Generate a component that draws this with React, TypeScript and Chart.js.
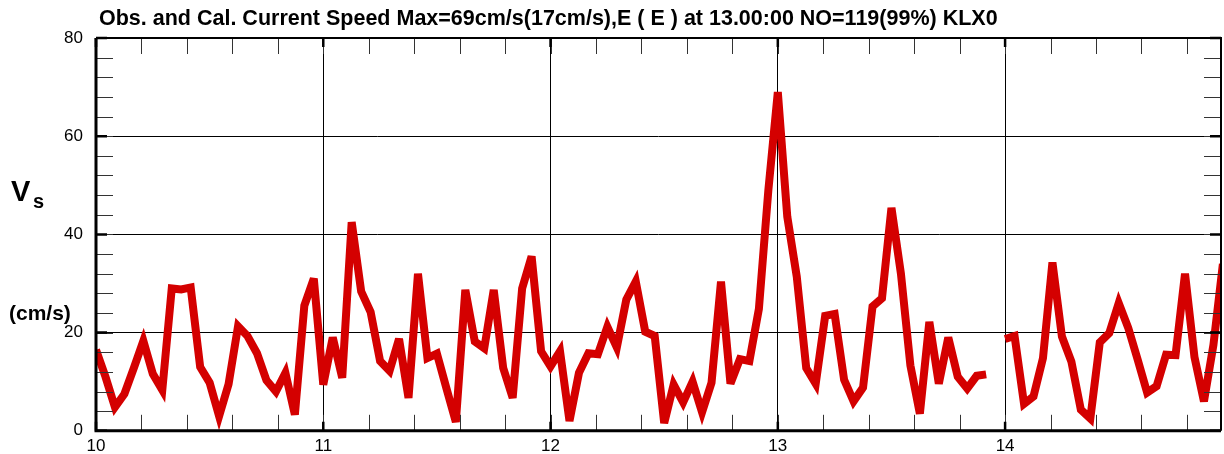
import React, { useEffect, useRef } from "react";
import { Chart, registerables } from "chart.js";

Chart.register(...registerables);

const TITLE = "Obs. and Cal. Current Speed Max=69cm/s(17cm/s),E ( E ) at 13.00:00 NO=119(99%) KLX0";
const Y_LABEL_MAIN = "V";
const Y_LABEL_SUB = "s";
const Y_UNIT = "(cm/s)";

const START_DAY = 10;
const HOURS_PER_DAY = 24;

// hourly current speed (cm/s), one array per day
const speedDay10 = [16.5, 11, 4.8, 7.5, 12.8, 18.3, 11.6, 8.3, 29, 28.8, 29.2, 13, 9.8, 3, 9.5, 21.3, 19.3, 15.8, 10.3, 8, 11.8, 3.3, 25.5, 31];
const speedDay11 = [9.4, 19, 10.8, 42.5, 28.4, 24.2, 14.2, 12.2, 18.7, 6.7, 32, 14.8, 15.7, 8.7, 1.8, 28.7, 18.2, 16.8, 28.7, 12.8, 6.7, 29, 35.5, 16.2];
const speedDay12 = [13.1, 16.2, 2, 11.8, 15.8, 15.6, 21.2, 17, 26.7, 30.4, 20.2, 19.3, 1.6, 9.4, 5.8, 10, 3.8, 9.8, 30.4, 9.6, 14.6, 14.2, 24.8, 49];
const speedDay13 = [69, 43.6, 31.4, 12.8, 9.6, 23.4, 23.8, 10.4, 6, 8.8, 25.3, 27, 45.4, 32, 13.3, 3.5, 22.2, 9.6, 19, 11, 8.6, 11.2, 11.5, null];
const speedDay14 = [18.7, 19.3, 5.5, 7, 14.8, 34.3, 19.2, 14.1, 4.3, 2.5, 18, 19.9, 26, 21, 14.5, 7.8, 9.1, 15.5, 15.4, 32, 15, 6, 17.5, 34];

const xTickValues = [10, 11, 12, 13, 14];
const yTickValues = [0, 20, 40, 60, 80];
const X_MIN = 10;
const X_MAX = 14.95;
const Y_MIN = 0;
const Y_MAX = 80;
const X_MINOR_STEP = 0.2;
const Y_MINOR_STEP = 4;

const LINE_COLOR = "#d40000";
const FONT = "'Liberation Sans', Arial, sans-serif";

export default function App() {
  const canvasRef = useRef<HTMLCanvasElement | null>(null);

  useEffect(() => {
    const canvas = canvasRef.current;
    if (!canvas) return;

    const days = [speedDay10, speedDay11, speedDay12, speedDay13, speedDay14];
    const points: { x: number; y: number | null }[] = [];
    days.forEach((arr, d) => {
      arr.forEach((v, h) => {
        points.push({ x: START_DAY + d + h / HOURS_PER_DAY, y: v });
      });
    });

    const miterPlugin = {
      id: "miterPlugin",
      beforeDatasetsDraw(chart: any) {
        chart.ctx.save();
        chart.ctx.miterLimit = 4;
      },
      afterDatasetsDraw(chart: any) {
        chart.ctx.restore();
      },
    };

    const framePlugin = {
      id: "framePlugin",
      afterDraw(chart: any) {
        const { ctx, chartArea, scales } = chart;
        const { left, right, top, bottom } = chartArea;
        const xs = scales.x;
        const ys = scales.y;
        ctx.save();
        // minor ticks
        ctx.strokeStyle = "#333";
        ctx.lineWidth = 1;
        ctx.beginPath();
        for (let v = X_MIN; v <= X_MAX + 1e-9; v += X_MINOR_STEP) {
          const px = Math.round(xs.getPixelForValue(v)) + 0.5;
          ctx.moveTo(px, bottom);
          ctx.lineTo(px, bottom - 16);
          ctx.moveTo(px, top);
          ctx.lineTo(px, top + 16);
        }
        for (let v = Y_MIN; v <= Y_MAX + 1e-9; v += Y_MINOR_STEP) {
          const py = Math.round(ys.getPixelForValue(v)) + 0.5;
          ctx.moveTo(left, py);
          ctx.lineTo(left + 17, py);
          ctx.moveTo(right, py);
          ctx.lineTo(right - 17, py);
        }
        ctx.stroke();
        // major tick stubs
        ctx.strokeStyle = "#000";
        ctx.lineWidth = 2.5;
        ctx.beginPath();
        xTickValues.forEach((v) => {
          const px = xs.getPixelForValue(v);
          ctx.moveTo(px, bottom);
          ctx.lineTo(px, bottom - 9);
          ctx.moveTo(px, top);
          ctx.lineTo(px, top + 9);
        });
        yTickValues.forEach((v) => {
          const py = ys.getPixelForValue(v);
          ctx.moveTo(left, py);
          ctx.lineTo(left + 11, py);
          ctx.moveTo(right, py);
          ctx.lineTo(right - 11, py);
        });
        ctx.stroke();
        // frame
        ctx.lineWidth = 3;
        ctx.beginPath();
        ctx.moveTo(left, top);
        ctx.lineTo(left, bottom);
        ctx.lineTo(right, bottom);
        ctx.stroke();
        ctx.lineWidth = 2;
        ctx.beginPath();
        ctx.moveTo(left, top);
        ctx.lineTo(right, top);
        ctx.lineTo(right, bottom);
        ctx.stroke();

        // title
        ctx.fillStyle = "#000";
        ctx.font = `bold 21.5px ${FONT}`;
        ctx.textBaseline = "alphabetic";
        ctx.textAlign = "left";
        ctx.fillText(TITLE, 99, 25);

        // y axis label
        ctx.font = `bold 29px ${FONT}`;
        ctx.fillText(Y_LABEL_MAIN, 11, 201);
        ctx.font = `bold 20px ${FONT}`;
        ctx.fillText(Y_LABEL_SUB, 33, 208);
        ctx.font = `bold 21px ${FONT}`;
        ctx.fillText(Y_UNIT, 9, 320);
        ctx.restore();
      },
    };

    const chart = new Chart(canvas, {
      type: "line",
      data: {
        datasets: [
          {
            data: points as any,
            borderColor: LINE_COLOR,
            backgroundColor: LINE_COLOR,
            borderWidth: 8,
            borderJoinStyle: "miter",
            pointRadius: 0,
            spanGaps: false,
            tension: 0,
            fill: false,
          },
        ],
      },
      options: {
        animation: false,
        responsive: false,
        devicePixelRatio: 1,
        layout: { padding: { top: 38, right: 3, left: 0, bottom: 0 } },
        plugins: {
          legend: { display: false },
          title: { display: false },
          tooltip: { enabled: false },
        },
        scales: {
          x: {
            type: "linear",
            min: X_MIN,
            max: X_MAX,
            afterFit: (s: any) => {
              s.height = 21;
            },
            afterBuildTicks: (s: any) => {
              s.ticks = xTickValues.map((v) => ({ value: v }));
            },
            ticks: {
              color: "#000",
              font: { family: FONT, size: 17 },
              padding: 5,
              maxRotation: 0,
              autoSkip: false,
              callback: (v: any) => String(v),
            },
            grid: { color: "#000", lineWidth: 1, drawTicks: false },
            border: { display: false },
          },
          y: {
            type: "linear",
            min: Y_MIN,
            max: Y_MAX,
            afterFit: (s: any) => {
              s.width = 96;
            },
            afterBuildTicks: (s: any) => {
              s.ticks = yTickValues.map((v) => ({ value: v }));
            },
            ticks: {
              color: "#000",
              font: { family: FONT, size: 17 },
              padding: 13,
              callback: (v: any) => String(v),
            },
            grid: { color: "#000", lineWidth: 1, drawTicks: false },
            border: { display: false },
          },
        },
      },
      plugins: [miterPlugin, framePlugin],
    } as any);

    return () => chart.destroy();
  }, []);

  return (
    <div style={{ position: "fixed", left: 0, top: 0, width: 1224, height: 454, background: "#fff" }}>
      <canvas ref={canvasRef} width={1224} height={454} />
    </div>
  );
}
